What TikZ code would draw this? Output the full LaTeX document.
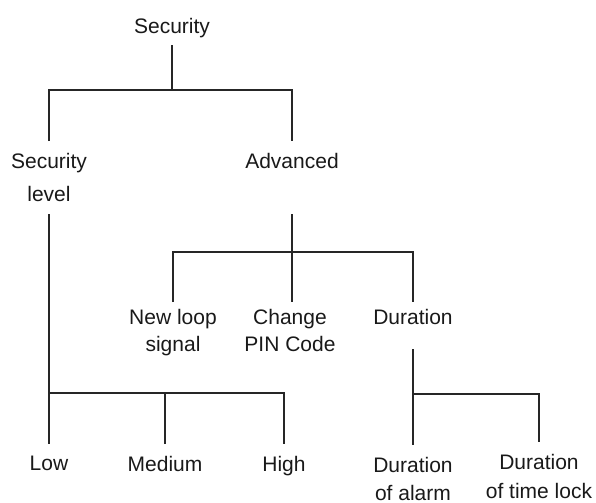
\documentclass[tikz,border=0pt]{standalone}
\usepackage{fontspec}
\setmainfont{Liberation Sans}
\usetikzlibrary{positioning}

\begin{document}
\begin{tikzpicture}[
  x=0.5pt, y=-0.5pt,
  every node/.style={font=\fontsize{10.5}{15}\selectfont, text=black!90},
  menu/.style={anchor=north, align=center, inner xsep=1pt,
               inner ysep=6pt},
  tight/.style={menu, inner ysep=3.5pt},
  conn/.style={line width=1pt, draw=black!85, line join=miter},
]
\useasboundingbox (0,0) rectangle (596,503);

%% ── Top level ─────────────────────────────────────────
\node[tight] (sec) at (172,11) {Security};

%% ── Second level ──────────────────────────────────────
\node[menu, font=\fontsize{10.5}{16.5}\selectfont] (lvl) at (49,141)
  {Security\\level};
\node[menu] (adv) at (292,141) {Advanced};

%% ── Advanced sub-menu ─────────────────────────────────
\node[tight, font=\fontsize{10.5}{13.5}\selectfont] (loop) at (173,302)
  {New loop\\signal};
\node[tight, font=\fontsize{10.5}{13.5}\selectfont] (pin)  at (290,302)
  {Change\\PIN Code};
\node[tight] (dur) at (413,302) {Duration};

%% ── Security level options ────────────────────────────
\node[menu] (low)  at (49,444)  {Low};
\node[menu] (med)  at (165,444) {Medium};
\node[menu] (high) at (284,444) {High};

%% ── Duration options ──────────────────────────────────
\node[menu, font=\fontsize{10.5}{13.8}\selectfont] (alarm) at (413,445)
  {Duration\\of alarm};
\node[menu, font=\fontsize{10.5}{14.5}\selectfont] (tlock) at (539,442)
  {Duration\\of time lock};

%% ── Junctions ─────────────────────────────────────────
\coordinate (j1) at (172,90);
\coordinate (j2) at (292,252);
\coordinate (j3) at (49,393);
\coordinate (j4) at (413,394);

%% ── Connectors ────────────────────────────────────────
\draw[conn] (sec.south) -- (j1);
\draw[conn] (lvl.north) |- (j1) -| (adv.north);

\draw[conn] (adv |- lvl.south) -- (j2);
\draw[conn] (loop.north) |- (j2) -| (dur.north);
\draw[conn] (j2) -- (j2 |- pin.north);

\draw[conn] (lvl.south) -- (low.north);
\draw[conn] (j3) -| (high.north);
\draw[conn] (med.north) -- (med |- j3);

\draw[conn] ([yshift=-8.5pt]dur.south) -- (alarm.north);
\draw[conn] (j4) -| (tlock.north);

\end{tikzpicture}
\end{document}
